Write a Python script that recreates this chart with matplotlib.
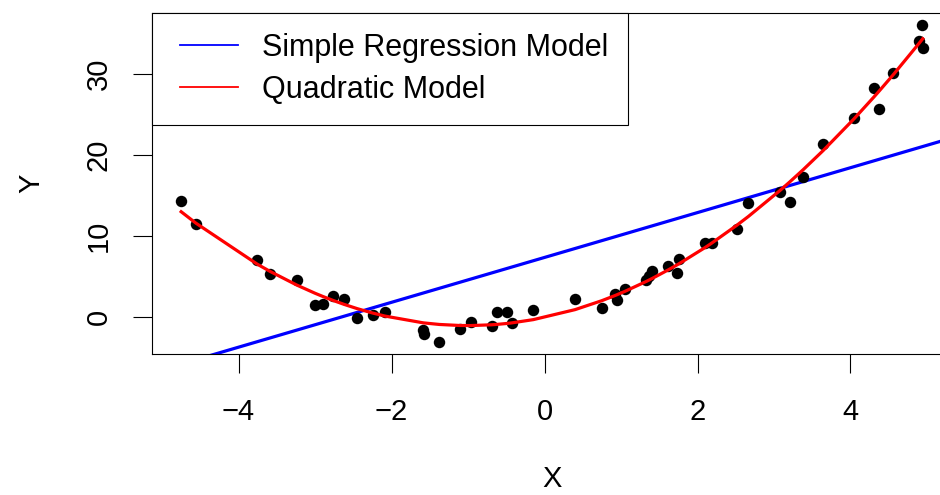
import numpy as np
import matplotlib
matplotlib.use("Agg")
import matplotlib.pyplot as plt
from matplotlib.lines import Line2D
from matplotlib.legend_handler import HandlerLine2D

# points
x = [-4.75, -4.556, -3.758, -3.588, -3.24, -3.0, -2.9, -2.76, -2.62, -2.447,
     -2.246, -2.085, -1.59, -1.57, -1.375, -1.105, -0.965, -0.69, -0.617, -0.494,
     -0.429, -0.146, 0.399, 0.748, 0.922, 0.944, 1.052, 1.33, 1.37, 1.41,
     1.618, 1.728, 1.758, 2.098, 2.185, 2.512, 2.664, 3.078, 3.209, 3.383,
     3.645, 4.046, 4.311, 4.377, 4.56, 4.9, 4.944, 4.93]
y = [14.34, 11.46, 6.97, 5.28, 4.54, 1.45, 1.57, 2.6, 2.15, -0.12,
     0.21, 0.62, -1.6, -2.1, -3.09, -1.52, -0.7, -1.15, 0.62, 0.54,
     -0.82, 0.83, 2.19, 1.04, 2.8, 2.06, 3.39, 4.5, 5.0, 5.6,
     6.27, 5.44, 7.13, 9.07, 9.15, 10.8, 14.02, 15.45, 14.2, 17.23,
     21.35, 24.52, 28.23, 25.64, 30.09, 34.12, 33.18, 36.06]

labels = ["Simple Regression Model", "Quadratic Model"]
xticks = [-4, -2, 0, 2, 4]
yticks = [0, 10, 20, 30]

x = np.array(x)
y = np.array(y)

plt.rcParams['font.family'] = ['Liberation Sans', 'DejaVu Sans']
fs = 21

fig = plt.figure(figsize=(9.4, 4.95), dpi=100)
ax = fig.add_axes([152 / 940, 141 / 495, 801 / 940, 340.7 / 495])

ax.scatter(x, y, s=68, color='black', zorder=3, linewidths=0)

# simple linear fit
b1, b0 = np.polyfit(x, y, 1)
xl = np.array([-6, 6])
ax.plot(xl, b0 + b1 * xl, color='blue', lw=2.3, zorder=2)

# quadratic fit, drawn through the sorted x values
order = np.argsort(x)
q = np.polyfit(x, y, 2)
ax.plot(x[order], np.polyval(q, x[order]), color='red', lw=2.3, zorder=4)

ax.set_xlim(-5.131, 5.34)
ax.set_ylim(-4.6, 37.5)
ax.set_xticks(xticks)
ax.set_yticks(yticks)
ax.set_xticklabels([str(v).replace('-', '\u2212') for v in xticks])
ax.tick_params(axis='both', direction='out', length=13.5, width=0.8,
               labelsize=fs, pad=18)
ax.tick_params(axis='y', labelrotation=90, pad=15)
for lab in ax.get_yticklabels():
    lab.set_va('center')
for s in ax.spines.values():
    s.set_linewidth(0.8)

ax.set_xlabel("X", fontsize=fs, labelpad=28)
ax.set_ylabel("Y", fontsize=fs, labelpad=28.5)

handles = [Line2D([], [], color='blue', lw=1.3), Line2D([], [], color='red', lw=1.3)]
leg = ax.legend(handles, labels, loc='upper left', bbox_to_anchor=(0, 1),
                borderaxespad=0, fontsize=22, fancybox=False, framealpha=1,
                edgecolor='black', borderpad=0.65, labelspacing=0.38,
                handlelength=2.16, handletextpad=0.78,
                handler_map={Line2D: HandlerLine2D(xpad=0.26)})
leg.get_frame().set_linewidth(0.8)

fig.savefig("out.png", dpi=100)
